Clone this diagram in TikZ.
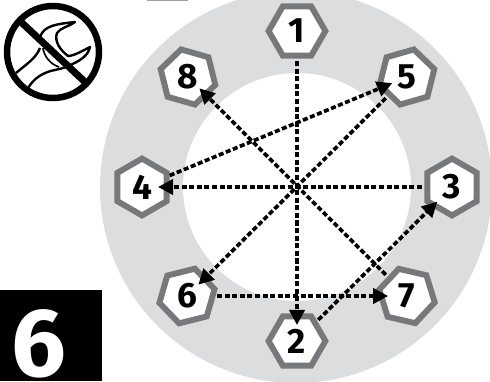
\documentclass[tikz,border=0pt]{standalone}
\usepackage{fontspec}
\setmainfont{Fira Sans}
\usetikzlibrary{arrows.meta,shapes.geometric}
\definecolor{anillo}{HTML}{DCDDDE}
\definecolor{borde}{HTML}{77787B}
\tikzset{
  perno/.style={regular polygon, regular polygon sides=6, draw=borde, fill=white,
    line width=4.2pt, minimum size=1.42cm, inner sep=0pt, font=\fontsize{25}{25}\selectfont\bfseries},
  paso/.style={black, line width=2.6pt, dash pattern=on 3.6pt off 1.8pt,
    -{Triangle[length=0.38cm,width=0.38cm]}, shorten <=0.75cm, shorten >=0.4cm},
}
\begin{document}
\begin{tikzpicture}[x=0.025cm,y=-0.025cm]
        \useasboundingbox (0,0) rectangle (490,381);
        % Dibujo del anillo
        \fill[anillo] (296,187) circle (196);
        \fill[white] (297,187) circle (114);
        \fill[borde!70] (147,0) rectangle (188,1);
        % Pernos
        \node[perno] (p1) at (297,31) {1};
        \node[perno] (p2) at (297,341) {2};
        \node[perno, shape border rotate=30] (p3) at (452,187) {3};
        \node[perno, shape border rotate=30] (p4) at (142,187) {4};
        \node[perno, shape border rotate=16] (p5) at (407,77) {5};
        \node[perno, shape border rotate=14] (p6) at (187,296) {6};
        \node[perno, shape border rotate=47] (p7) at (407,296) {7};
        \node[perno, shape border rotate=44] (p8) at (188,77) {8};
        % Orden de apriete
        \draw[paso] (p1.center) -- (p2.center);
        \draw[paso, shorten >=0.52cm] (p2.center) -- (p3.center);
        \draw[paso] (p3.center) -- (p4.center);
        \draw[paso] (p4.center) -- (p5.center);
        \draw[paso] (p5.center) -- (p6.center);
        \draw[paso, shorten >=0.47cm] (p6.center) -- (p7.center);
        \draw[paso] (p7.center) -- (p8.center);
        % Llave prohibida
        \draw[line width=1.7pt, line join=round] (40,37) .. controls (44,25) and (58,24) .. (75,22)
            .. controls (68,27) and (60,28) .. (57,33) .. controls (54,41) and (60,50) .. (68,56)
            .. controls (74,56) and (84,50) .. (90,47) .. controls (88,56) and (80,61) .. (68,66)
            .. controls (62,69) and (58,69) .. (55,70) .. controls (44,72) and (33,78) .. (27,90);
        \draw[line width=1.7pt] (40,48) .. controls (36,58) and (28,63) .. (16,73);
        \draw[line width=1.2pt] (43,48) .. controls (44,56) and (50,64) .. (59,67);
        \draw[line width=4.6pt] (53,52) circle (46);
        \draw[line width=5pt] (21,22) -- (85,82);
        % Numero de paso
        \fill[black] (0,290) rectangle (102,381);
        \node[white, font=\fontsize{69}{69}\selectfont\bfseries, anchor=base, inner sep=0pt] (num) at (39,376) {6};
    \end{tikzpicture}
\end{document}
